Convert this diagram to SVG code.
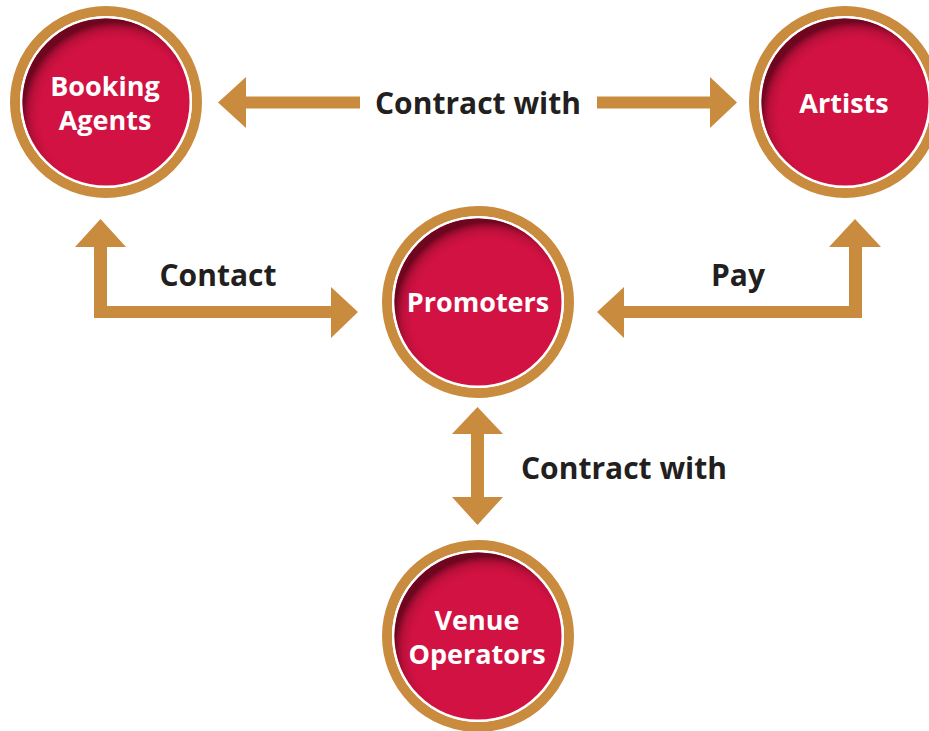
<svg xmlns="http://www.w3.org/2000/svg" width="929" height="731" viewBox="0 0 929 731">
<defs>
<radialGradient id="shade" cx="0.56" cy="0.58" r="0.56">
<stop offset="0.78" stop-color="#D21242" stop-opacity="0"/>
<stop offset="0.92" stop-color="#A50D33" stop-opacity="0.6"/>
<stop offset="1" stop-color="#6E0620" stop-opacity="1"/>
</radialGradient>
<style>
.ring{fill:none;stroke:#C98B3E;stroke-width:10}
.gap{fill:#ffffff}
.disc{fill:#D21242}
.shade{fill:url(#shade)}
.nt{font-family:"Open Sans",Lato,"Liberation Sans",sans-serif;font-weight:700;font-size:27px;fill:#ffffff;text-anchor:middle}
.lt{font-family:"Open Sans",Lato,"Liberation Sans",sans-serif;font-weight:700;font-size:30px;fill:#231F20;text-anchor:middle}
.arr{fill:#C98B3E}
</style>
</defs>
<rect width="929" height="731" fill="#ffffff"/>
<g id="connectors">
<polygon class="arr" points="218,102.5 246,77 246,96.5 360,96.5 360,108.5 246,108.5 246,128"/>
<polygon class="arr" points="597,96.5 710,96.5 710,77 737,102.5 710,128 710,108.5 597,108.5"/>
<polygon class="arr" points="100.5,219 126,247 107,247 107,306 331,306 331,287 358,312 331,338 331,318 94,318 94,247 75,247"/>
<polygon class="arr" points="597,312 624,287 624,306 849,306 849,247 829,247 855,219 881,247 862,247 862,318 624,318 624,338"/>
<polygon class="arr" points="477.5,407 503,434 484,434 484,497 503,497 477.5,525 452,497 471,497 471,434 452,434"/>
<text class="lt" x="478" y="114">Contract with</text>
<text class="lt" x="218" y="286">Contact</text>
<text class="lt" x="738" y="286">Pay</text>
<text class="lt" x="624" y="479">Contract with</text>
</g>
<g id="booking-agents">
<circle class="ring" cx="106" cy="102" r="91"/>
<circle class="gap" cx="106" cy="102" r="86"/>
<circle class="disc" cx="106" cy="102" r="83.5"/>
<circle class="shade" cx="106" cy="102" r="83.5"/>
<text class="nt" x="105" y="96">Booking</text>
<text class="nt" x="105" y="130">Agents</text>
</g>
<g id="artists">
<circle class="ring" cx="845" cy="102" r="91"/>
<circle class="gap" cx="845" cy="102" r="86"/>
<circle class="disc" cx="845" cy="102" r="83.5"/>
<circle class="shade" cx="845" cy="102" r="83.5"/>
<text class="nt" x="844" y="113">Artists</text>
</g>
<g id="promoters">
<circle class="ring" cx="478" cy="302" r="91"/>
<circle class="gap" cx="478" cy="302" r="86"/>
<circle class="disc" cx="478" cy="302" r="83.5"/>
<circle class="shade" cx="478" cy="302" r="83.5"/>
<text class="nt" x="478" y="312">Promoters</text>
</g>
<g id="venue-operators">
<circle class="ring" cx="478" cy="636" r="91"/>
<circle class="gap" cx="478" cy="636" r="86"/>
<circle class="disc" cx="478" cy="636" r="83.5"/>
<circle class="shade" cx="478" cy="636" r="83.5"/>
<text class="nt" x="477" y="630">Venue</text>
<text class="nt" x="477" y="664">Operators</text>
</g>
</svg>
